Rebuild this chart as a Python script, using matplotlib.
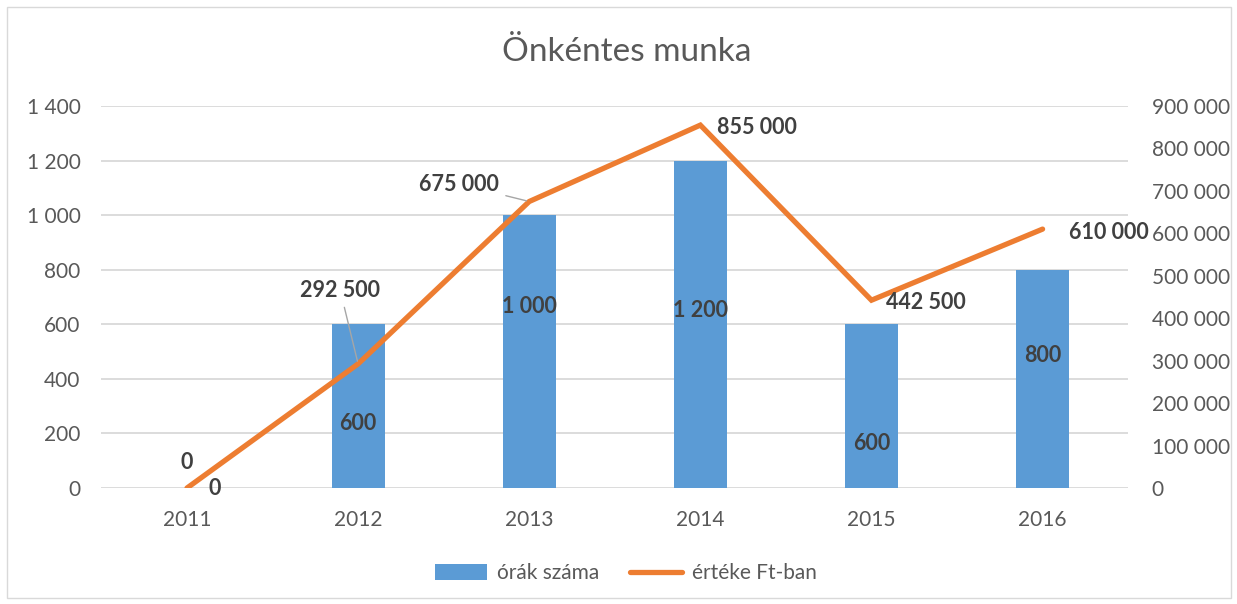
import matplotlib
matplotlib.use('Agg')
import matplotlib.pyplot as plt
from matplotlib.patches import Rectangle, Patch
from matplotlib.lines import Line2D
from matplotlib.ticker import FuncFormatter

plt.rcParams['font.family'] = ['Lato', 'DejaVu Sans']

years = ['2011', '2012', '2013', '2014', '2015', '2016']
hours = [0, 600, 1000, 1200, 600, 800]
value_ft = [0, 292500, 675000, 855000, 442500, 610000]

# label positions (bar labels were moved by hand)
hour_label_y = [0, 238, 667, 652, 165, 487]
hour_label_dx = [0.16, 0, 0, 0, 0, 0]
value_label_y = [61000, 466500, 716000, 850500, 438000, 603000]
value_label_dx = [0.0, -0.105, -0.41, 0.33, 0.32, 0.39]

blue = '#5B9BD5'
orange = '#ED7D31'
grid = '#D9D9D9'
txt = '#595959'
lbl = '#404040'


def spaced(v, pos=None):
    return f'{int(v):,}'.replace(',', ' ')


fig = plt.figure(figsize=(12.37, 6.04), dpi=100)
fig.patches.append(Rectangle((7 / 1237, 6 / 604), 1224 / 1237, 591 / 604,
                             transform=fig.transFigure, fill=False,
                             edgecolor=grid, lw=1))

ax = fig.add_axes([0.082, 0.192, 0.830, 0.6325])
x = list(range(len(years)))
ax.bar(x, hours, width=0.31, color=blue, zorder=2)
ax.set_xlim(-0.5, 5.5)
ax.set_ylim(0, 1400)
ax.set_yticks(range(0, 1401, 200))
ax.yaxis.set_major_formatter(FuncFormatter(spaced))
ax.set_xticks(x)
ax.set_xticklabels(years)
ax.grid(axis='y', color=grid, lw=1.3, zorder=0)
ax.set_axisbelow(True)
for s in ax.spines.values():
    s.set_visible(False)
ax.tick_params(length=0, labelsize=15, colors=txt)
ax.tick_params(axis='y', pad=15)
ax.tick_params(axis='x', pad=16)

ax2 = ax.twinx()
ax2.plot(x, value_ft, color=orange, lw=3.8, solid_capstyle='round',
         solid_joinstyle='miter', zorder=3)
ax2.set_ylim(0, 900000)
ax2.set_yticks(range(0, 900001, 100000))
ax2.yaxis.set_major_formatter(FuncFormatter(spaced))
for s in ax2.spines.values():
    s.set_visible(False)
ax2.tick_params(length=0, labelsize=15, colors=txt, pad=17)

for i, h in enumerate(hours):
    ax.text(i + hour_label_dx[i], hour_label_y[i], spaced(h), ha='center',
            va='center', fontsize=15.5, fontweight='bold', color=lbl, zorder=4)

for i, v in enumerate(value_ft):
    lx = i + value_label_dx[i]
    ly = value_label_y[i]
    if i in (1, 2):
        ax2.annotate(spaced(v), xy=(i, v), xytext=(lx, ly), ha='center',
                     va='center', fontsize=15.5, fontweight='bold', color=lbl,
                     arrowprops=dict(arrowstyle='-', color='#A6A6A6', lw=1,
                                     shrinkA=3, shrinkB=2), zorder=4)
    else:
        ax2.text(lx, ly, spaced(v), ha='center', va='center', fontsize=15.5,
                 fontweight='bold', color=lbl, zorder=4)

fig.text(0.507, 0.914, 'Önkéntes munka', ha='center', va='center',
         fontsize=24, color=txt)

handles = [Patch(facecolor=blue, label='órák száma'),
           Line2D([0], [0], color=orange, lw=3.8, solid_capstyle='round',
                  label='értéke Ft-ban')]
fig.legend(handles=handles, loc='center', bbox_to_anchor=(0.506, 0.051),
           ncol=2, frameon=False, fontsize=15, labelcolor=txt,
           handlelength=2.5, handleheight=0.8, columnspacing=1.5,
           handletextpad=0.45)

fig.savefig('out.png', dpi=100)
